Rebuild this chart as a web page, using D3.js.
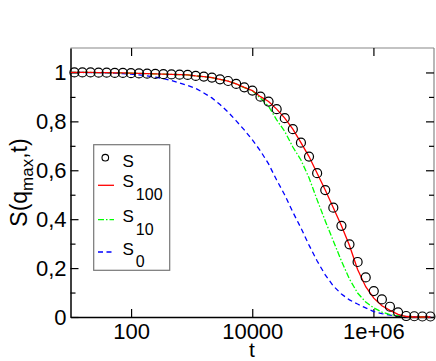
<!doctype html>
<html>
<head>
<style>
  body { margin: 0; background: #fff; }
  svg, svg text, .tick text { font-family: "Liberation Sans", Arial, "Noto Sans", sans-serif !important; }
  .tick text { font-size: 22px; fill: #000; }
</style>
</head>
<body>
<svg id="chart" width="436" height="361"></svg>
<script src="https://cdn.jsdelivr.net/npm/d3@7/dist/d3.min.js"></script>
<script>
// time grid of the points
var tPts = [11.6, 15.7, 21.4, 29.1, 39.5, 53.8, 73.2, 99.6, 135, 184, 251, 341, 464, 631, 858,
  1167, 1587, 2158, 2936, 3993, 5432, 7388, 10050, 13670, 18590, 25290, 34400, 46770, 63630, 86500,
  117800, 160300, 217800, 296500, 402700, 548300, 746400, 1014000, 1380000, 1875000, 2553000,
  3475000, 4721000, 6427000, 8730000];

// S (circles)
var sFull = [1.0, 1.0, 1.0, 0.999, 0.999, 0.998, 0.998, 0.997, 0.996, 0.995, 0.994, 0.993, 0.992, 0.991, 0.990,
  0.986, 0.983, 0.979, 0.972, 0.965, 0.953, 0.939, 0.926, 0.901, 0.881, 0.850, 0.813, 0.768, 0.713, 0.656,
  0.588, 0.519, 0.447, 0.373, 0.297, 0.225, 0.162, 0.106, 0.072, 0.042, 0.019, 0.004, 0.003, 0.002, 0.002];

// lines start at the left edge
var tLine = [10].concat(tPts);
var s100 = [1.0, 1.0, 1.0, 1.0, 0.999, 0.999, 0.998, 0.998, 0.997, 0.996, 0.995, 0.994, 0.993, 0.992, 0.991, 0.990,
  0.986, 0.983, 0.979, 0.972, 0.965, 0.953, 0.939, 0.926, 0.901, 0.881, 0.850, 0.813, 0.768, 0.713, 0.656,
  0.588, 0.519, 0.447, 0.373, 0.292, 0.194, 0.124, 0.077, 0.046, 0.027, 0.011, 0.002, 0.0, 0.0, 0.0];
var s10 = [1.0, 1.0, 1.0, 1.0, 0.999, 0.999, 0.998, 0.998, 0.997, 0.996, 0.995, 0.994, 0.993, 0.992, 0.991, 0.990,
  0.986, 0.983, 0.979, 0.972, 0.965, 0.953, 0.938, 0.925, 0.895, 0.862, 0.806, 0.759, 0.695, 0.642, 0.569,
  0.479, 0.393, 0.311, 0.229, 0.155, 0.098, 0.061, 0.037, 0.020, 0.010, 0.005, 0.002, 0.001, 0.0, 0.0];
var s0 = [1.0, 1.0, 1.0, 0.999, 0.999, 0.998, 0.997, 0.995, 0.993, 0.990, 0.986, 0.981, 0.975, 0.967, 0.957, 0.947,
  0.935, 0.916, 0.896, 0.869, 0.838, 0.802, 0.765, 0.724, 0.679, 0.626, 0.560, 0.499, 0.429, 0.364, 0.294,
  0.229, 0.172, 0.127, 0.094, 0.070, 0.053, 0.037, 0.022, 0.014, 0.008, 0.004, 0.002, 0.001, 0.0, 0.0];

var xTicks = [100, 10000, 1e6];
var xTickLabels = ["100", "10000", "1e+06"];
var yTicks = [0, 0.2, 0.4, 0.6, 0.8, 1];
var yTickLabels = ["0", "0,2", "0,4", "0,6", "0,8", "1"];
var yMinor = [0.1, 0.3, 0.5, 0.7, 0.9];

var font = "Liberation Sans, Arial, Noto Sans, sans-serif";
var svg = d3.select("#chart").attr("font-family", font);
var mLeft = 70.5, mRight = 434, mTop = 48, mBottom = 317;

var x = d3.scaleLog().domain([10, 1e7]).range([mLeft, mRight]);
var y = d3.scaleLinear().domain([0, 1.1]).range([mBottom, mTop]);

// frame, top and right drawn lighter
svg.append("line").attr("x1", mLeft).attr("x2", mRight).attr("y1", mTop).attr("y2", mTop)
  .attr("stroke", "#888").attr("stroke-width", 1.2);
svg.append("line").attr("x1", mRight).attr("x2", mRight).attr("y1", mTop).attr("y2", mBottom)
  .attr("stroke", "#888").attr("stroke-width", 1.2);

function fmt(vals, labels) { return function(d) { return labels[vals.indexOf(d)]; }; }

svg.append("g").attr("transform", "translate(0," + mBottom + ")")
  .call(d3.axisBottom(x).tickValues(xTicks).tickFormat(fmt(xTicks, xTickLabels))
    .tickSizeInner(-8).tickSizeOuter(0).tickPadding(6));
svg.append("g").attr("transform", "translate(" + mLeft + ",0)")
  .call(d3.axisLeft(y).tickValues(yTicks).tickFormat(fmt(yTicks, yTickLabels))
    .tickSizeInner(-8).tickSizeOuter(0).tickPadding(4));
svg.append("g").attr("transform", "translate(" + mLeft + ",0)")
  .call(d3.axisLeft(y).tickValues(yMinor).tickFormat("").tickSizeInner(-5).tickSizeOuter(0))
  .select(".domain").remove();
svg.append("g").attr("transform", "translate(0," + mTop + ")")
  .call(d3.axisTop(x).tickValues(xTicks).tickFormat("").tickSizeInner(-8).tickSizeOuter(0))
  .select(".domain").remove();
svg.append("g").attr("transform", "translate(" + mRight + ",0)")
  .call(d3.axisRight(y).tickValues(yTicks).tickFormat("").tickSizeInner(-8).tickSizeOuter(0))
  .select(".domain").remove();
svg.append("g").attr("transform", "translate(" + mRight + ",0)")
  .call(d3.axisRight(y).tickValues(yMinor).tickFormat("").tickSizeInner(-5).tickSizeOuter(0))
  .select(".domain").remove();
svg.selectAll("g").attr("font-family", font);
svg.selectAll(".domain").attr("stroke", "#000").attr("stroke-width", 1.5);
svg.selectAll(".tick line").attr("stroke", "#000").attr("stroke-width", 1.2);

// curves
var line = d3.line().x(function(d) { return x(d[0]); }).y(function(d) { return y(d[1]); });
function pairs(ts, vs) { return ts.map(function(t, i) { return [t, vs[i]]; }); }

svg.append("path").datum(pairs(tLine, s0)).attr("d", line)
  .attr("fill", "none").attr("stroke", "#0000ff").attr("stroke-width", 1.3).attr("stroke-dasharray", "5,3.5");
svg.append("path").datum(pairs(tLine, s10)).attr("d", line)
  .attr("fill", "none").attr("stroke", "#00ff00").attr("stroke-width", 1.3).attr("stroke-dasharray", "6,2,1.5,2");
svg.append("path").datum(pairs(tLine, s100)).attr("d", line)
  .attr("fill", "none").attr("stroke", "#ff0000").attr("stroke-width", 1.3);

svg.append("g").selectAll("circle").data(pairs(tPts, sFull)).enter().append("circle")
  .attr("cx", function(d) { return x(d[0]); })
  .attr("cy", function(d) { return y(d[1]); })
  .attr("r", 4.5).attr("fill", "none").attr("stroke", "#000").attr("stroke-width", 1.2);

// axis titles
svg.append("text").attr("x", 252).attr("y", 356.5).attr("text-anchor", "middle")
  .attr("font-size", 21).text("t");
var yl = svg.append("text").attr("transform", "translate(27," + ((mTop + mBottom) / 2) + ") rotate(-90)")
  .attr("text-anchor", "middle").attr("font-size", 23);
yl.append("tspan").text("S(q");
yl.append("tspan").attr("dy", 6).attr("font-size", 17).text("max");
yl.append("tspan").attr("dy", -6).text(",t)");

// legend
var lg = svg.append("g");
lg.append("rect").attr("x", 93.7).attr("y", 144.7).attr("width", 76).attr("height", 125.6)
  .attr("fill", "#fff").attr("stroke", "#777").attr("stroke-width", 1.2);
lg.append("circle").attr("cx", 105.3).attr("cy", 157.7).attr("r", 3.3)
  .attr("fill", "none").attr("stroke", "#000").attr("stroke-width", 1.1);
lg.append("line").attr("x1", 98).attr("x2", 114).attr("y1", 185.3).attr("y2", 185.3)
  .attr("stroke", "#ff0000").attr("stroke-width", 1.3);
lg.append("line").attr("x1", 98).attr("x2", 114).attr("y1", 219.7).attr("y2", 219.7)
  .attr("stroke", "#00ff00").attr("stroke-width", 1.3).attr("stroke-dasharray", "6,2,1.5,2");
lg.append("line").attr("x1", 98).attr("x2", 114).attr("y1", 252).attr("y2", 252)
  .attr("stroke", "#0000ff").attr("stroke-width", 1.3).attr("stroke-dasharray", "5,3.5");

var rows = [["", 167], ["100", 187], ["10", 222], ["0", 254.7]];
rows.forEach(function(r) {
  var t = lg.append("text").attr("x", 122.5).attr("y", r[1]).attr("font-size", 17);
  t.append("tspan").text("S");
  if (r[0]) t.append("tspan").attr("dy", 12.5).attr("dx", 2).attr("font-size", 16).text(r[0]);
});
</script>
</body>
</html>
